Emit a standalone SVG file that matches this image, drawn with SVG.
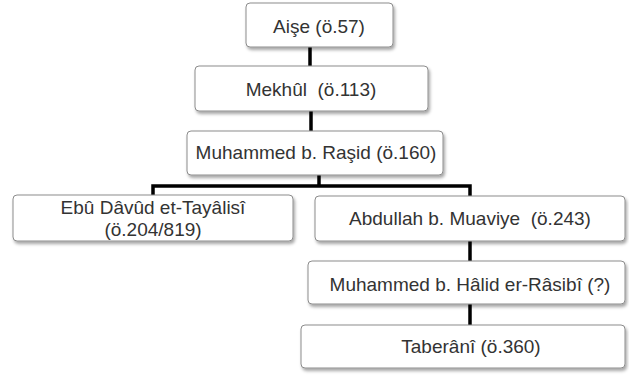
<svg xmlns="http://www.w3.org/2000/svg" width="629" height="378" viewBox="0 0 629 378">
<defs>
<style>
.box{fill:#fff;stroke:#8c8c8c;stroke-width:1;filter:url(#sh)}
.t{font-family:"Liberation Sans",Arial,sans-serif;font-size:19px;fill:#333;text-anchor:middle}
.c{fill:none;stroke:#000;stroke-width:3.5}
</style>
<filter id="sh" x="-10%" y="-20%" width="120%" height="150%">
<feDropShadow dx="1.5" dy="2.5" stdDeviation="1.5" flood-color="#000" flood-opacity="0.35"/>
</filter>
</defs>
<rect width="629" height="378" fill="#fff"/>
<g id="connectors">
<line class="c" x1="310" y1="47" x2="310" y2="66"/>
<line class="c" x1="311" y1="111" x2="311" y2="131"/>
<polyline class="c" points="153,195 153,186 470,186 470,196"/>
<line class="c" x1="319" y1="175" x2="319" y2="186"/>
<line class="c" x1="470" y1="241" x2="470" y2="261"/>
<line class="c" x1="470" y1="304" x2="470" y2="325"/>
</g>
<g id="aise">
<rect class="box" x="246" y="3" width="147" height="44" rx="4"/>
<text class="t" x="319" y="33">Aişe (ö.57)</text>
</g>
<g id="mekhul">
<rect class="box" x="195" y="66" width="233" height="45" rx="4"/>
<text class="t" x="311" y="96" xml:space="preserve">Mekhûl  (ö.113)</text>
</g>
<g id="rasid">
<rect class="box" x="187" y="131" width="256" height="44" rx="4"/>
<text class="t" x="316" y="159">Muhammed b. Raşid (ö.160)</text>
</g>
<g id="tayalisi">
<rect class="box" x="13" y="195" width="280" height="46" rx="4"/>
<text class="t" x="153" y="214">Ebû Dâvûd et-Tayâlisî</text>
<text class="t" x="153" y="236">(ö.204/819)</text>
</g>
<g id="abdullah">
<rect class="box" x="315" y="196" width="310" height="45" rx="4"/>
<text class="t" x="470" y="225" xml:space="preserve">Abdullah b. Muaviye  (ö.243)</text>
</g>
<g id="halid">
<rect class="box" x="308" y="261" width="317" height="43" rx="4"/>
<text class="t" x="470" y="291">Muhammed b. Hâlid er-Râsibî (?)</text>
</g>
<g id="taberani">
<rect class="box" x="301" y="325" width="324" height="43" rx="4"/>
<text class="t" x="471" y="353">Taberânî (ö.360)</text>
</g>
</svg>
